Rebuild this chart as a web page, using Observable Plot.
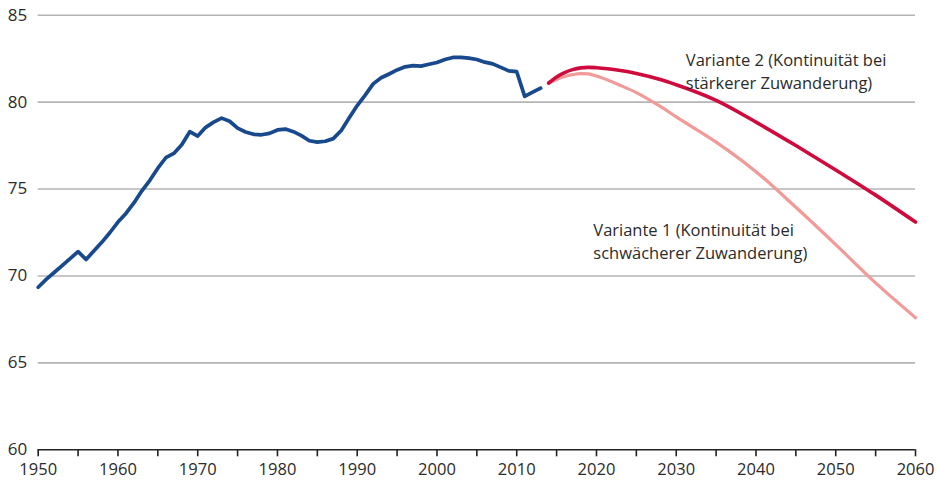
<!DOCTYPE html>
<html>
<head>
<meta charset="utf-8">
<script src="https://cdn.jsdelivr.net/npm/d3@7"></script>
<script src="https://cdn.jsdelivr.net/npm/@observablehq/plot@0.6"></script>
<style>
  html, body { margin: 0; padding: 0; background: #fff; }
  #chart svg { display: block; }
</style>
</head>
<body>
<div id="chart"></div>
<script>
// Historical series (population, millions)
const histYears = [1950,1951,1952,1953,1954,1955,1956,1957,1958,1959,
  1960,1961,1962,1963,1964,1965,1966,1967,1968,1969,
  1970,1971,1972,1973,1974,1975,1976,1977,1978,1979,
  1980,1981,1982,1983,1984,1985,1986,1987,1988,1989,
  1990,1991,1992,1993,1994,1995,1996,1997,1998,1999,
  2000,2001,2002,2003,2004,2005,2006,2007,2008,2009,
  2010,2011,2012,2013];
const histValues = [69.35,69.8,70.2,70.6,71.0,71.4,70.95,71.45,71.95,72.5,
  73.1,73.6,74.2,74.9,75.5,76.2,76.8,77.05,77.55,78.3,
  78.05,78.55,78.85,79.08,78.9,78.5,78.28,78.15,78.12,78.2,
  78.4,78.45,78.3,78.07,77.78,77.7,77.75,77.9,78.37,79.1,
  79.8,80.4,81.05,81.4,81.62,81.85,82.03,82.1,82.07,82.18,
  82.28,82.45,82.57,82.57,82.53,82.45,82.3,82.2,82.0,81.8,
  81.75,80.33,80.57,80.8];

// Projections
const projYears = [2014,2015,2016,2017,2018,2019,2020,2023,2025,2028,2030,2035,2040,2045,2050,2055,2060];
const variant2 = [81.1,81.45,81.7,81.87,81.97,82.0,81.98,81.82,81.65,81.3,81.0,80.1,78.85,77.5,76.1,74.65,73.1];
const variant1 = [81.1,81.3,81.47,81.58,81.64,81.62,81.5,80.96,80.55,79.75,79.15,77.7,76.0,73.95,71.8,69.6,67.6];

// Axis ticks
const yTicks = [60,65,70,75,80,85];
const xTicks = [1950,1955,1960,1965,1970,1975,1980,1985,1990,1995,2000,2005,2010,2015,2020,2025,2030,2035,2040,2045,2050,2055,2060];

// Annotation labels
const labelText = ["Variante 2 (Kontinuität bei\nstärkerer Zuwanderung)", "Variante 1 (Kontinuität bei\nschwächerer Zuwanderung)"];
const labelX = [2031.2, 2019.6];
const labelY = [83.0, 73.22];

const hist = histYears.map((y, i) => ({year: y, value: histValues[i]}));
const v2 = projYears.map((y, i) => ({year: y, value: variant2[i]}));
const v1 = projYears.map((y, i) => ({year: y, value: variant1[i]}));
const labels = labelText.map((t, i) => ({text: t, x: labelX[i], y: labelY[i]}));

const chart = Plot.plot({
  width: 939,
  height: 483,
  marginLeft: 37.7,
  marginRight: 24,
  marginTop: 14.7,
  marginBottom: 33.7,
  style: {fontFamily: "'Open Sans', sans-serif", color: "#2b2b2b", background: "#fff"},
  x: {domain: [1950, 2060]},
  y: {domain: [60, 85]},
  marks: [
    Plot.gridY([65,70,75,80,85], {stroke: "#b4b4b4", strokeOpacity: 1, strokeWidth: 1.6}),
    Plot.axisY(yTicks, {tickSize: 0, tickPadding: 11, fontSize: 17, fill: "#2b2b2b", label: null}),
    Plot.axisX(xTicks, {tickSize: 7, tickPadding: 6, stroke: "#222", strokeWidth: 1.6, fontSize: 16.5, fill: "#2b2b2b", label: null,
      tickFormat: d => d % 10 === 0 ? String(d) : ""}),
    Plot.ruleY([60], {stroke: "#222", strokeWidth: 1.6}),
    Plot.line(v1, {x: "year", y: "value", stroke: "#f19a98", strokeWidth: 3.2, curve: "monotone-x"}),
    Plot.line(v2, {x: "year", y: "value", stroke: "#cf0a3d", strokeWidth: 3.6, curve: "monotone-x"}),
    Plot.line(hist, {x: "year", y: "value", stroke: "#17498c", strokeWidth: 3.7, strokeLinejoin: "round"}),
    Plot.text(labels, {x: "x", y: "y", text: "text", textAnchor: "start", lineAnchor: "top", lineHeight: 1.37, fontSize: 16.5, fill: "#2b2b2b"})
  ]
});
document.getElementById("chart").appendChild(chart);
</script>
</body>
</html>
